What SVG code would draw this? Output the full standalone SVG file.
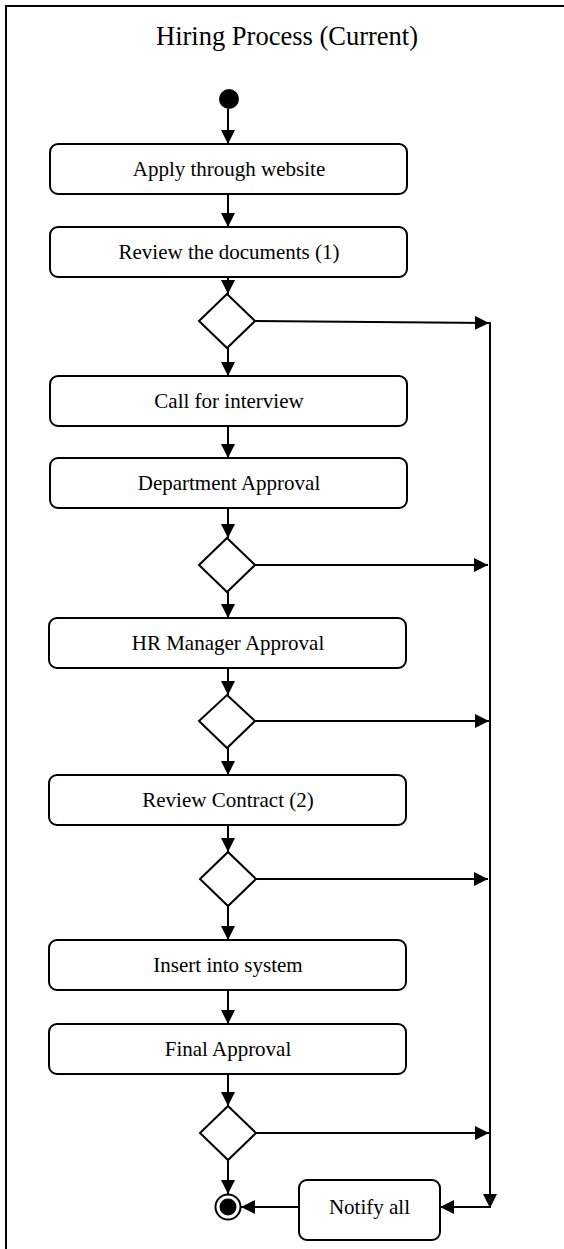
<svg xmlns="http://www.w3.org/2000/svg" width="564" height="1249" viewBox="0 0 564 1249">
  <style>
    .frame { fill: none; stroke: #000; stroke-width: 2; }
    .act { fill: #fff; stroke: #000; stroke-width: 2; }
    .dec { fill: #fff; stroke: #000; stroke-width: 2; }
    .edge { fill: none; stroke: #000; stroke-width: 2; }
    .lbl { font-family: "Liberation Serif", "Times New Roman", serif; font-size: 21px; fill: #000; text-anchor: middle; }
    .title { font-family: "Liberation Serif", "Times New Roman", serif; font-size: 26.5px; fill: #000; text-anchor: middle; }
  </style>
  <defs>
    <marker id="arrow" markerUnits="userSpaceOnUse" markerWidth="14" markerHeight="14" refX="14" refY="7" orient="auto">
      <path d="M0,0 L14,7 L0,14 z" fill="#000"/>
    </marker>
  </defs>

  <rect width="564" height="1249" fill="#fff"/>

  <!-- outer frame: left and top edges only, the rest runs past the canvas -->
  <path class="frame" d="M6,1260 L6,6 L570,6"/>
  <text class="title" x="287" y="45">Hiring Process (Current)</text>

  <!-- connectors -->
  <g id="connectors">
    <line class="edge" x1="228" y1="109" x2="228" y2="144" marker-end="url(#arrow)"/>
    <line class="edge" x1="228" y1="194" x2="228" y2="227" marker-end="url(#arrow)"/>
    <line class="edge" x1="228" y1="277" x2="228" y2="294" marker-end="url(#arrow)"/>
    <line class="edge" x1="228" y1="348" x2="228" y2="376" marker-end="url(#arrow)"/>
    <line class="edge" x1="228" y1="426" x2="228" y2="458" marker-end="url(#arrow)"/>
    <line class="edge" x1="228" y1="508" x2="228" y2="538" marker-end="url(#arrow)"/>
    <line class="edge" x1="228" y1="592" x2="228" y2="618" marker-end="url(#arrow)"/>
    <line class="edge" x1="228" y1="668" x2="228" y2="695" marker-end="url(#arrow)"/>
    <line class="edge" x1="228" y1="748" x2="228" y2="775" marker-end="url(#arrow)"/>
    <line class="edge" x1="228" y1="825" x2="228" y2="852" marker-end="url(#arrow)"/>
    <line class="edge" x1="228" y1="906" x2="228" y2="940" marker-end="url(#arrow)"/>
    <line class="edge" x1="228" y1="990" x2="228" y2="1024" marker-end="url(#arrow)"/>
    <line class="edge" x1="228" y1="1074" x2="228" y2="1106" marker-end="url(#arrow)"/>
    <line class="edge" x1="228" y1="1160" x2="228" y2="1194" marker-end="url(#arrow)"/>

    <!-- rejection branches to the notification rail -->
    <line class="edge" x1="255" y1="321" x2="489" y2="323" marker-end="url(#arrow)"/>
    <line class="edge" x1="255" y1="565" x2="488" y2="565" marker-end="url(#arrow)"/>
    <line class="edge" x1="255" y1="721" x2="489" y2="721" marker-end="url(#arrow)"/>
    <line class="edge" x1="256" y1="879" x2="488" y2="879" marker-end="url(#arrow)"/>
    <line class="edge" x1="256" y1="1133" x2="489" y2="1133" marker-end="url(#arrow)"/>

    <line class="edge" x1="490" y1="322" x2="490" y2="1208" marker-end="url(#arrow)"/>
    <line class="edge" x1="490" y1="1207" x2="440" y2="1207" marker-end="url(#arrow)"/>
    <line class="edge" x1="299" y1="1207" x2="241" y2="1207" marker-end="url(#arrow)"/>
  </g>

  <g id="start">
    <circle cx="229" cy="99" r="10" fill="#000"/>
  </g>

  <g id="apply">
    <rect class="act" x="50" y="144" width="357" height="50" rx="8"/>
    <text class="lbl" x="229" y="176">Apply through website</text>
  </g>
  <g id="review-docs">
    <rect class="act" x="50" y="227" width="357" height="50" rx="8"/>
    <text class="lbl" x="229" y="259">Review the documents (1)</text>
  </g>
  <g id="decision-1">
    <polygon class="dec" points="227,294 255,321 227,348 199,321"/>
  </g>
  <g id="interview">
    <rect class="act" x="50" y="376" width="357" height="50" rx="8"/>
    <text class="lbl" x="229" y="408">Call for interview</text>
  </g>
  <g id="dept-approval">
    <rect class="act" x="50" y="458" width="357" height="50" rx="8"/>
    <text class="lbl" x="229" y="490">Department Approval</text>
  </g>
  <g id="decision-2">
    <polygon class="dec" points="227,538 255,565 227,592 199,565"/>
  </g>
  <g id="hr-approval">
    <rect class="act" x="49" y="618" width="357" height="50" rx="8"/>
    <text class="lbl" x="228" y="650">HR Manager Approval</text>
  </g>
  <g id="decision-3">
    <polygon class="dec" points="227,695 255,721 227,748 199,721"/>
  </g>
  <g id="review-contract">
    <rect class="act" x="49" y="775" width="357" height="50" rx="8"/>
    <text class="lbl" x="228" y="807">Review Contract (2)</text>
  </g>
  <g id="decision-4">
    <polygon class="dec" points="228,852 256,879 228,906 200,879"/>
  </g>
  <g id="insert">
    <rect class="act" x="49" y="940" width="357" height="50" rx="8"/>
    <text class="lbl" x="228" y="972">Insert into system</text>
  </g>
  <g id="final-approval">
    <rect class="act" x="49" y="1024" width="357" height="50" rx="8"/>
    <text class="lbl" x="228" y="1056">Final Approval</text>
  </g>
  <g id="decision-5">
    <polygon class="dec" points="228,1106 256,1133 228,1160 200,1133"/>
  </g>
  <g id="notify">
    <rect class="act" x="299" y="1180" width="141" height="60" rx="8"/>
    <text class="lbl" x="369.5" y="1214">Notify all</text>
  </g>
  <g id="end">
    <circle cx="228" cy="1207" r="12.5" fill="#fff" stroke="#000" stroke-width="2"/>
    <circle cx="228" cy="1207" r="8.5" fill="#000"/>
  </g>
</svg>
